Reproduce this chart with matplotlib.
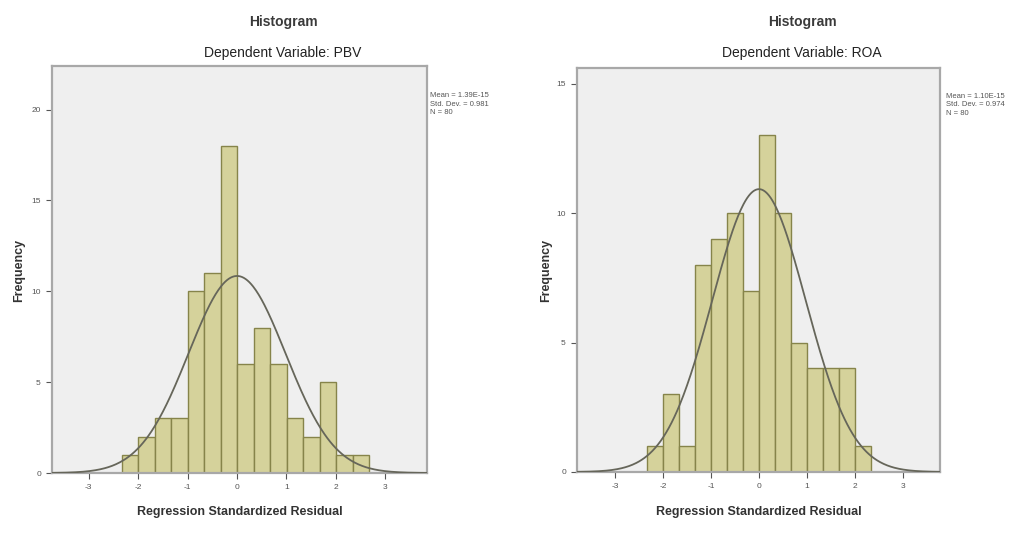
import numpy as np
import matplotlib.pyplot as plt

plt.rcParams['font.family'] = ['Liberation Sans', 'DejaVu Sans']
plt.rcParams['axes.unicode_minus'] = False

# bin counts (bin width 1/3)
bin_width = 1 / 3
pbv_start = -2.33
pbv_counts = [1, 2, 3, 3, 10, 11, 18, 6, 8, 6, 3, 2, 5, 1, 1]
roa_start = -2.33
roa_counts = [1, 3, 1, 8, 9, 10, 7, 13, 10, 5, 4, 4, 4, 1]

pbv_stats = {'mean': 0.0, 'sd': 0.981, 'n': 80,
             'text': 'Mean = 1.39E-15\nStd. Dev. = 0.981\nN = 80'}
roa_stats = {'mean': 0.0, 'sd': 0.974, 'n': 80,
             'text': 'Mean = 1.10E-15\nStd. Dev. = 0.974\nN = 80'}

x_ticks = [-3, -2, -1, 0, 1, 2, 3]
y_ticks = [0, 5, 10, 15, 20]

W, H = 1028, 533
fig = plt.figure(figsize=(W / 100, H / 100), dpi=100)


def px_axes(x0, y0, x1, y1):
    # pixel box (from top-left) -> figure axes
    return fig.add_axes([x0 / W, 1 - y1 / H, (x1 - x0) / W, (y1 - y0) / H])


def draw_hist(ax, start, counts, stats, xlim, ylim):
    ax.set_facecolor('#efefef')
    lefts = [start + i * bin_width for i in range(len(counts))]
    ax.bar(lefts, counts, width=bin_width, align='edge',
           color='#d5d29b', edgecolor='#86844a', linewidth=1.0, zorder=2)
    xs = np.linspace(xlim[0], xlim[1], 400)
    pdf = np.exp(-0.5 * ((xs - stats['mean']) / stats['sd']) ** 2) / (stats['sd'] * np.sqrt(2 * np.pi))
    ax.plot(xs, stats['n'] * bin_width * pdf, color='#66665a', linewidth=1.3, zorder=3)
    ax.set_xlim(*xlim)
    ax.set_ylim(*ylim)
    ax.set_xticks(x_ticks)
    ax.set_yticks([t for t in y_ticks if t <= ylim[1]])
    ax.tick_params(labelsize=6, colors='#555555', length=4, width=0.8, pad=4)
    for s in ax.spines.values():
        s.set_color('#a8a8a8')
        s.set_linewidth(1.6)


ax1 = px_axes(52, 66, 427, 473)
draw_hist(ax1, pbv_start, pbv_counts, pbv_stats, (-3.74, 3.84), (0, 22.4))
ax2 = px_axes(577, 68, 940, 472)
draw_hist(ax2, roa_start, roa_counts, roa_stats, (-3.79, 3.77), (0, 15.6))

# titles, labels and stats boxes
for cx, sub, ylx, xlx in [(283, 'Dependent Variable: PBV', 19, 240),
                          (802, 'Dependent Variable: ROA', 546, 759)]:
    fig.text(cx / W, 1 - 22 / H, 'Histogram', ha='center', va='center',
             fontsize=10, fontweight='bold', color='#3a3a3a')
    fig.text(cx / W, 1 - 53 / H, sub, ha='center', va='center',
             fontsize=10, color='#222222')
    fig.text(ylx / W, 1 - 270 / H, 'Frequency', ha='center', va='center',
             rotation=90, fontsize=9, fontweight='bold', color='#333333')
    fig.text(xlx / W, 1 - 512 / H, 'Regression Standardized Residual', ha='center',
             va='center', fontsize=9, fontweight='bold', color='#333333')

fig.text(430 / W, 1 - 92 / H, pbv_stats['text'], ha='left', va='top',
         fontsize=5.5, color='#555555', linespacing=1.3)
fig.text(946 / W, 1 - 93 / H, roa_stats['text'], ha='left', va='top',
         fontsize=5.5, color='#555555', linespacing=1.3)

fig.savefig('out.png', dpi=100)
